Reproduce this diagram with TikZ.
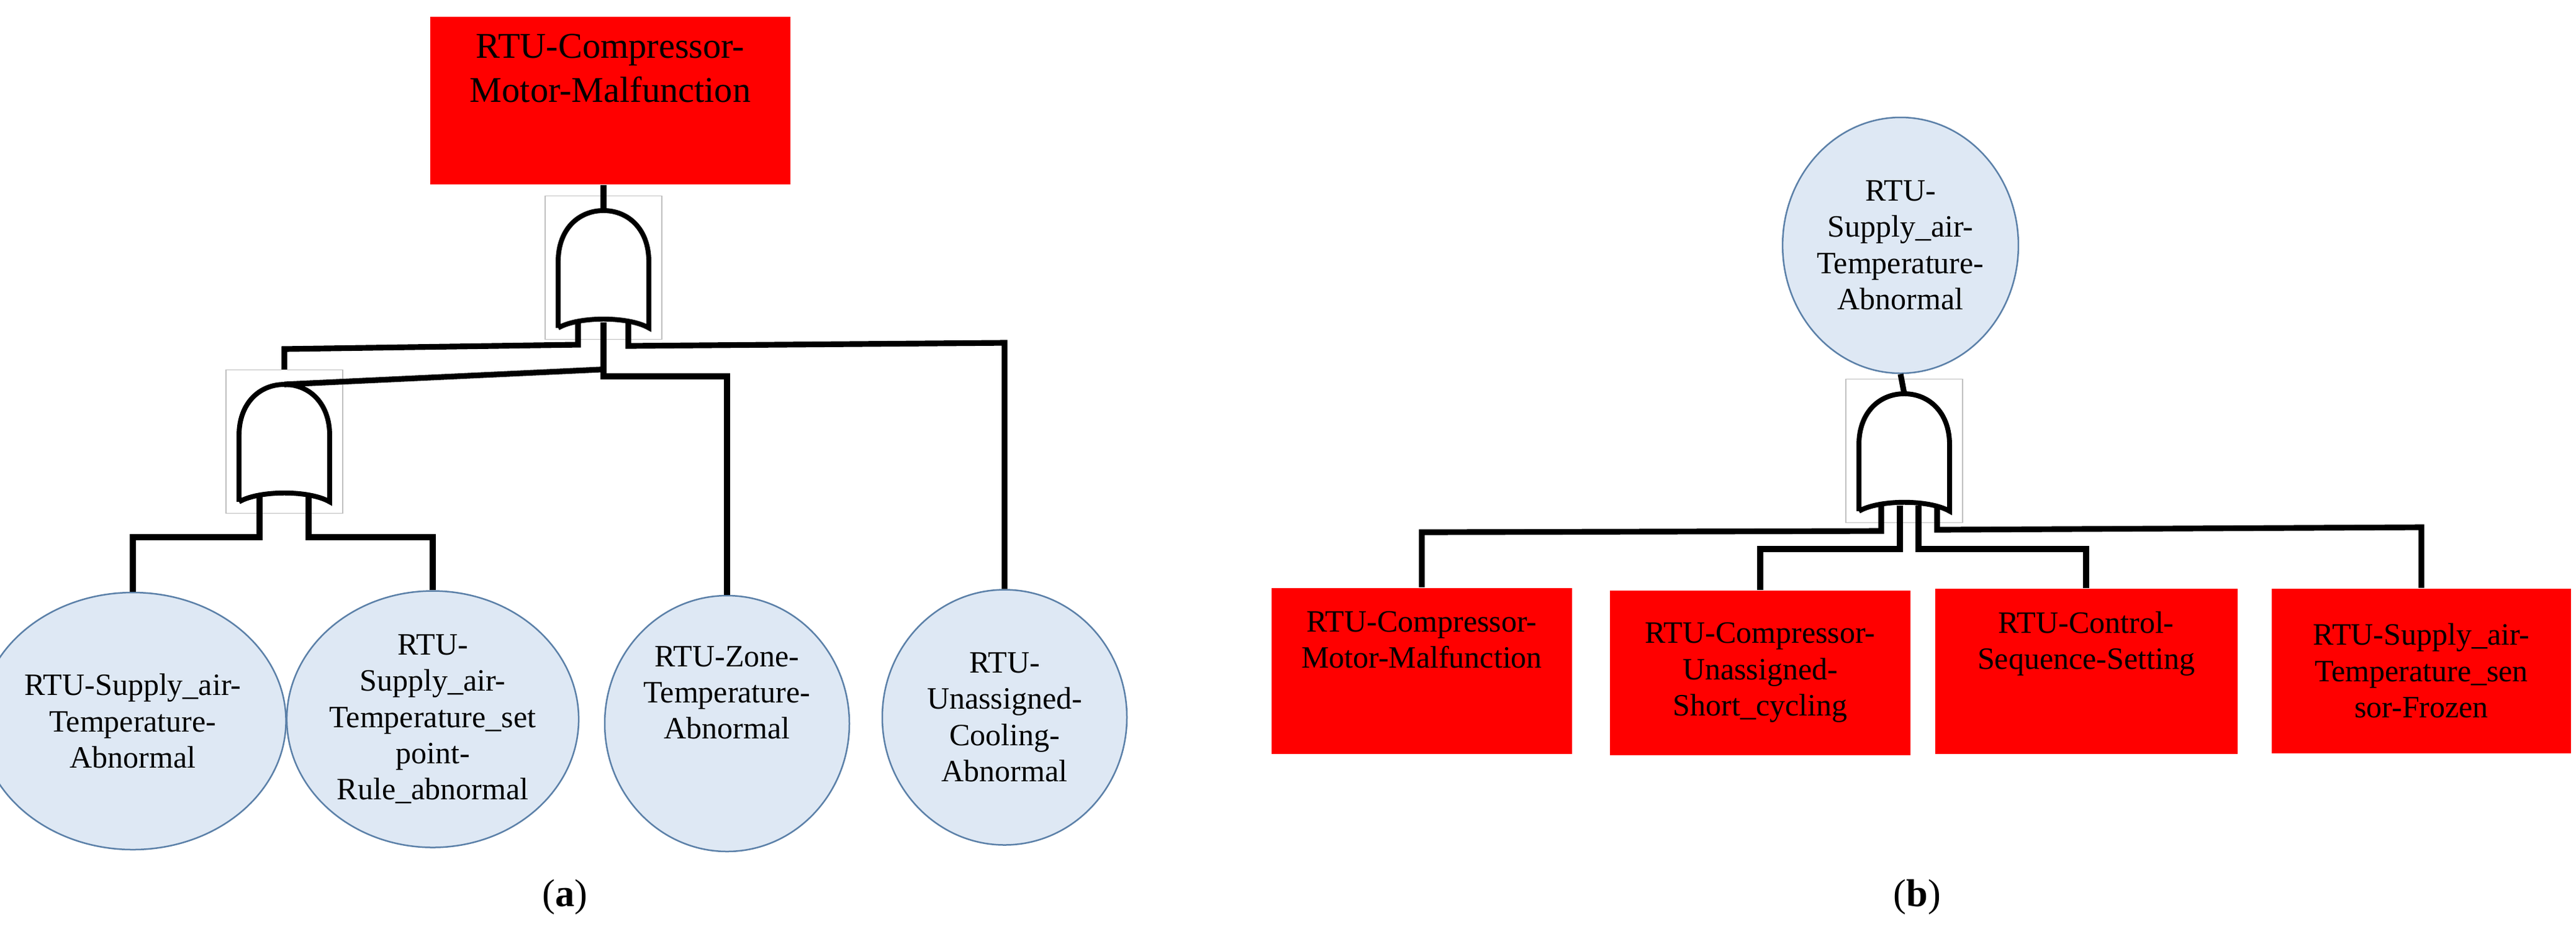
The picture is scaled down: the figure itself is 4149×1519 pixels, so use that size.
\documentclass[tikz,border=0pt]{standalone}
\usepackage{fontspec}
\setmainfont{Liberation Serif}
\usetikzlibrary{shapes.geometric}
\definecolor{evfill}{HTML}{DEE8F4}
\definecolor{evline}{HTML}{5B80A8}
\begin{document}
\begin{tikzpicture}[x=0.24pt,y=-0.24pt,
  redbox/.style={rectangle,fill=red,draw=none,align=center,inner sep=0pt,font=\fontsize{12}{14}\selectfont},
  evt/.style={ellipse,fill=evfill,draw=evline,line width=0.6pt,align=center,inner sep=0pt,font=\fontsize{12}{14}\selectfont},
  gbox/.style={rectangle,draw=black!25,line width=0.4pt,inner sep=0pt,minimum width=45pt,minimum height=55.4pt},
  wire/.style={line width=2.2pt,black},
  gateline/.style={line width=1.9pt,black},
  captxt/.style={font=\fontsize{15}{18}\selectfont}]
\useasboundingbox (0,0) rectangle (4149,1519);
% (a)
\node[redbox,minimum width=580*0.24pt,minimum height=270*0.24pt,font=\fontsize{14}{17}\selectfont] (top) at (983,162) {RTU-Compressor-\\Motor-Malfunction\\[8pt]};
\node[gbox] (g1) at (972,431) {};
\node[gbox] (g2) at (458,711) {};
\node[evt,minimum width=392*0.24pt,minimum height=414*0.24pt] (e1) at (214,1161) {RTU-Supply\_air-\\Temperature-\\Abnormal};
\node[evt,minimum width=389*0.24pt,minimum height=413*0.24pt] (e2) at (697,1158) {RTU-\\Supply\_air-\\Temperature\_set\\point-\\Rule\_abnormal};
\node[evt,minimum width=394*0.24pt,minimum height=412*0.24pt] (e3) at (1171,1165) {RTU-Zone-\\Temperature-\\Abnormal\\[10pt]};
\node[evt,minimum width=394*0.24pt,minimum height=411*0.24pt] (e4) at (1618,1155) {RTU-\\Unassigned-\\Cooling-\\Abnormal};
\node[captxt] (ca) at (910,1444) {(\textbf{a})};
% (b)
\node[evt,minimum width=376*0.24pt,minimum height=412*0.24pt] (et) at (3061,395) {RTU-\\Supply\_air-\\Temperature-\\Abnormal};
\node[gbox] (g3) at (3067,726) {};
\node[redbox,minimum width=484*0.24pt,minimum height=267*0.24pt] (b1) at (2290,1080) {RTU-Compressor-\\Motor-Malfunction\\[10pt]};
\node[redbox,minimum width=484*0.24pt,minimum height=265*0.24pt] (b2) at (2835,1083) {RTU-Compressor-\\Unassigned-\\Short\_cycling};
\node[redbox,minimum width=487*0.24pt,minimum height=266*0.24pt] (b3) at (3360,1081) {RTU-Control-\\Sequence-Setting\\[10pt]};
\node[redbox,minimum width=482*0.24pt,minimum height=265*0.24pt] (b4) at (3900,1080) {RTU-Supply\_air-\\Temperature\_sen\\sor-Frozen};
\node[captxt] (cb) at (3088,1444) {(\textbf{b})};
% gates
\foreach \g in {g1,g2,g3}{
  \begin{scope}[shift={(\g.center)}]
  \draw[gateline] (-73,97) -- (-73,-10) .. controls (-73,-62) and (-40,-92) .. (0,-92)
     .. controls (40,-92) and (73,-62) .. (73,-10) -- (73,97)
     .. controls (40,78) and (-40,78) .. (-73,97);
  \end{scope}
}
% gate tops
\coordinate (g1t) at (972,339);
\coordinate (g2t) at (458,619);
\coordinate (g3t) at (3067,634);
\draw[wire] (top.south -| g1t) -- (g1t);
\draw[wire] (g1t |- g2.north) -- (g2t);
\draw[wire] (et.south) -- (g3t);
% legs of g1
\coordinate (l1a) at (931,519); \coordinate (l1b) at (972,519); \coordinate (l1c) at (1012,519);
\draw[wire] (l1a) -- (931,555) -- (458,562) -- (g2.north);
\draw[wire] (l1b) -- (972,606) -- (1171,606) -- (e3.north);
\draw[wire] (l1c) -- (1012,557) -- (1618,552) -- (e4.north);
% legs of g2
\coordinate (l2a) at (418,799); \coordinate (l2b) at (497,799);
\draw[wire] (l2a) -- (418,865) -- (214,865) -- (e1.north);
\draw[wire] (l2b) -- (497,865) -- (697,865) -- (e2.north);
% legs of g3
\coordinate (l3a) at (3030,814); \coordinate (l3b) at (3060,814);
\coordinate (l3c) at (3090,814); \coordinate (l3d) at (3120,814);
\draw[wire] (l3a) -- (3030,855) -- (2290,857) -- (b1.north);
\draw[wire] (l3b) -- (3060,884) -- (2835,884) -- (b2.north);
\draw[wire] (l3c) -- (3090,884) -- (3360,884) -- (b3.north);
\draw[wire] (l3d) -- (3120,853) -- (3900,849) -- (b4.north);
\end{tikzpicture}
\end{document}
